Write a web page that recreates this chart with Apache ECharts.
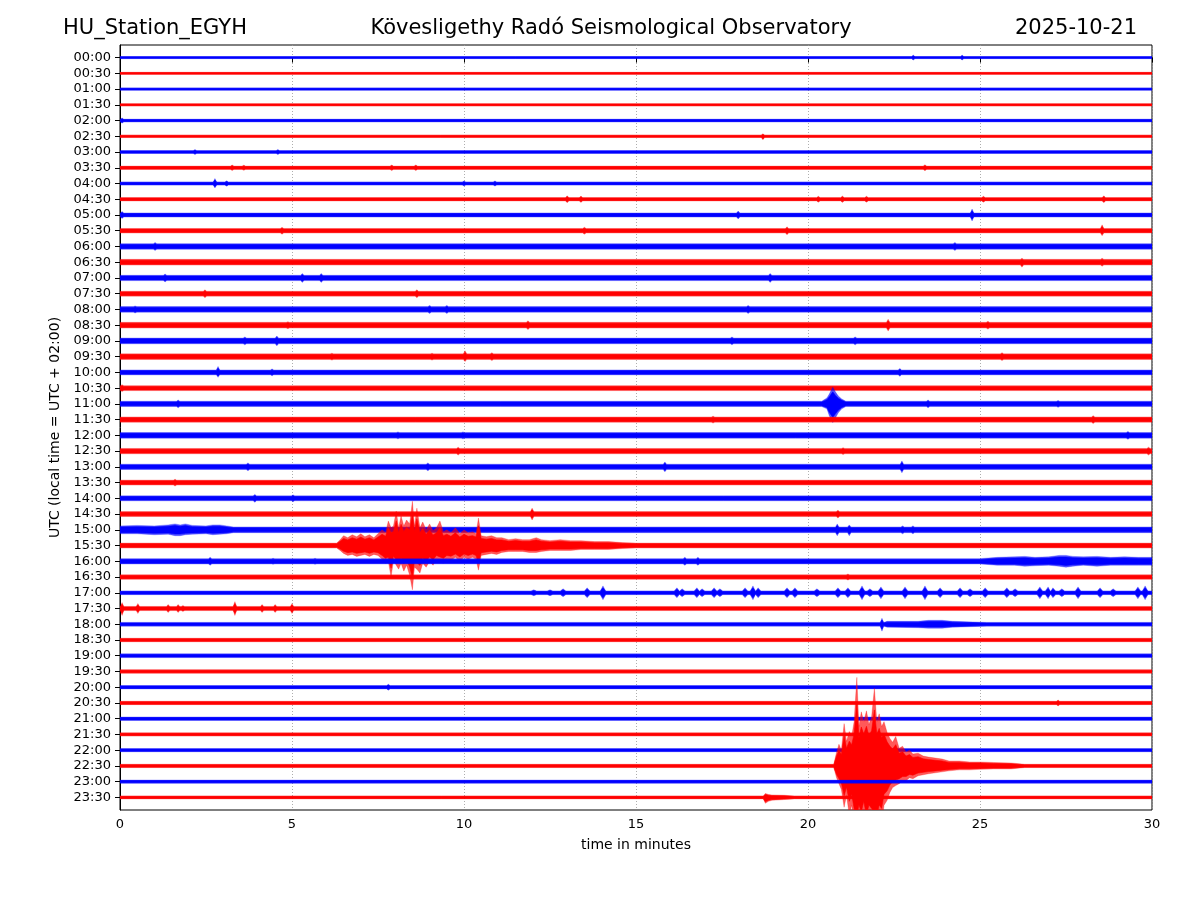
<!DOCTYPE html>
<html>
<head>
<meta charset="utf-8">
<script src="https://cdn.jsdelivr.net/npm/echarts@6/dist/echarts.min.js"></script>
<style>
html,body{margin:0;padding:0;background:#fff;}
#chart{width:1200px;height:900px;}
</style>
</head>
<body>
<div id="chart"></div>
<script>
const stationName = 'HU_Station_EGYH';
const observatory = 'Kövesligethy Radó Seismological Observatory';
const dateLabel = '2025-10-21';
const xAxisTitle = 'time in minutes';
const yAxisTitle = 'UTC (local time = UTC + 02:00)';

// one trace per 30-minute window (tick labels of the y axis)
const rowLabels = ['00:00','00:30','01:00','01:30','02:00','02:30','03:00','03:30',
  '04:00','04:30','05:00','05:30','06:00','06:30','07:00','07:30',
  '08:00','08:30','09:00','09:30','10:00','10:30','11:00','11:30',
  '12:00','12:30','13:00','13:30','14:00','14:30','15:00','15:30',
  '16:00','16:30','17:00','17:30','18:00','18:30','19:00','19:30',
  '20:00','20:30','21:00','21:30','22:00','22:30','23:00','23:30'];

// x axis: minutes within each window
const minuteTicks = [0, 5, 10, 15, 20, 25, 30];

// amplitudes are in counts; 16 counts = distance between two traces
// background noise half-amplitude of each trace
const noiseLevel = [1.1,1.1,1.2,1.2,1.4,1.3,1.5,1.7,1.6,1.7,2.1,2.3,
  2.9,2.9,2.7,2.5,2.9,2.9,2.9,2.9,2.5,2.5,2.7,2.7,
  2.9,2.7,2.7,2.5,2.5,2.5,2.9,2.5,2.7,2.3,1.9,2.1,
  1.9,1.8,1.9,1.8,1.7,1.7,1.7,1.6,1.6,1.7,1.6,1.5];

// short spikes: [row, minute, up, down]
const spikes = [
  [0,23.06,2.5,2.5],[0,24.48,2.5,2.5],
  [4,0.06,2.6,2.6],
  [5,18.69,2.5,3.5],
  [6,2.18,2.5,2.5],[6,4.59,2.5,2.5],
  [7,3.26,2.8,2.8],[7,3.6,2.6,2.6],[7,7.9,2.8,2.8],[7,8.6,2.8,2.8],[7,23.4,3,3],
  [8,2.76,5,4.5],[8,3.1,2.7,2.7],[8,10.0,2.5,2.5],[8,10.9,2.6,2.6],
  [9,13.0,3.5,3.5],[9,13.4,3.2,3.2],[9,20.3,3,3],[9,21.0,3.2,3.2],[9,21.7,3,3],[9,25.1,3,3],[9,28.6,3.5,3.5],
  [10,0.06,3.5,3.5],[10,17.97,4,4],[10,24.77,6,6],
  [11,4.71,3.5,3.5],[11,13.5,3.5,3.5],[11,19.39,4,4],[11,28.55,6,5],
  [12,1.02,4,4],[12,24.27,4,4],
  [13,26.22,4,5],[13,28.55,4,4],
  [14,1.31,4,4],[14,5.3,4.5,4.5],[14,5.85,4.5,4.5],[14,18.9,4.5,4.5],
  [15,2.47,4,4],[15,8.63,4,4],
  [16,0.44,3.5,3.5],[16,9.0,4,4],[16,9.5,4,4],[16,18.26,4,4],
  [17,4.88,3.5,3.5],[17,11.86,4.5,4.5],[17,22.33,6,6],[17,25.23,4,4],
  [18,3.63,4,4],[18,4.56,5,5],[18,17.79,4,4],[18,21.37,4,4],
  [19,6.16,3.5,3.5],[19,9.07,3.5,3.5],[19,10.03,6,5],[19,10.81,4,4],[19,25.64,4,4],
  [20,2.85,6,5],[20,4.42,3.5,3.5],[20,22.67,4,4],
  [21,0.06,3.5,3.5],
  [22,1.69,4,4],[22,23.49,4,4],[22,27.27,3.5,3.5],
  [23,17.24,3.5,3.5],[23,28.29,4,4],
  [24,8.08,3.5,3.5],[24,9.97,3.5,3.5],[24,29.3,4,4],
  [25,9.83,4,4],[25,21.02,3.5,3.5],[25,29.9,4,4],
  [26,3.72,4,4],[26,8.95,4,4],[26,15.84,5,5],[26,22.73,6,6],
  [27,1.6,3.5,3.5],
  [28,3.92,4,4],[28,5.03,3.5,3.5],
  [29,11.98,6,6],[29,20.87,4,4],
  [30,20.85,6,6],[30,21.2,5,6],[30,22.75,4,4],[30,23.05,4,4],
  [32,2.62,4,4],[32,4.45,3,3],[32,5.67,3,3],[32,16.42,4,4],[32,16.8,4,4],
  [33,21.16,3,3],
  [35,0.06,6,7],[35,0.52,5,5],[35,1.4,4,4],[35,1.69,4,4],[35,1.83,3,3],[35,3.34,7,7],
  [35,4.13,4,4],[35,4.51,4,4],[35,5.0,5,5],
  [36,22.15,6,7],
  [40,7.8,3,3],
  [41,27.27,3,3]
];

// repeating wave packets on the 17:00 trace: [minute, up, down]
const packets1700 = [
  [12.03,3,3],[12.5,3,3],[12.88,4,4],[13.58,5,5],[14.04,7,7],
  [16.19,5,5],[16.34,4,4],[16.77,5,5],[16.92,4,4],[17.27,5,5],[17.44,4,4],
  [18.17,5,5],[18.4,7,7],[18.55,5,5],[19.39,5,5],[19.62,5,5],[20.26,4,4],
  [20.87,5,5],[21.16,5,5],[21.57,7,7],[21.8,4,4],[22.12,6,6],[22.82,6,6],
  [23.4,7,7],[23.84,5,5],[24.42,5,5],[24.71,4,4],[25.15,5,5],[25.78,5,5],
  [26.02,4,4],[26.74,6,6],[26.98,6,6],[27.12,5,5],[27.38,4,4],[27.85,6,6],
  [28.49,5,5],[28.87,4,4],[29.59,6,6],[29.8,7,7]
];

// longer bursts: explicit envelopes [minute, up, down]
const quake1530 = [
  [6.30,2.5,2.5],[6.40,6,5],[6.50,10,8],[6.62,8,10],[6.75,11,9],[6.88,9,11],[7.00,12,10],
  [7.12,9,9],[7.25,11,11],[7.38,8,9],[7.50,12,10],[7.62,16,14],[7.72,13,18],[7.80,25,16],
  [7.88,18,32],[7.95,20,15],[8.03,35,20],[8.10,18,24],[8.17,30,18],[8.25,20,26],[8.33,26,20],
  [8.42,22,30],[8.50,45,45],[8.56,20,22],[8.63,38,24],[8.72,18,28],[8.80,24,18],[8.90,16,22],
  [9.00,22,16],[9.10,15,20],[9.20,18,14],[9.30,25,16],[9.40,14,18],[9.50,16,14],[9.62,13,15],
  [9.75,18,12],[9.88,12,16],[10.00,16,12],[10.12,13,14],[10.25,14,12],[10.35,12,14],
  [10.42,28,25],[10.50,10,10],[10.65,9,9],[10.80,10,8],[10.95,8,9],[11.10,8,7],[11.30,6,6],
  [11.50,7,6],[11.70,6,6],[11.90,6,7],[12.10,8,7],[12.25,6,6],[12.50,5,5],[12.80,6,5],
  [13.10,5,5],[13.40,5,4],[13.80,4,4],[14.20,4,4],[14.60,3,3],[15.00,2.5,2.5]
];
const quake2230 = [
  [20.75,1.7,1.7],[20.83,14,12],[20.90,22,18],[20.97,16,24],[21.05,43,42],[21.12,25,30],
  [21.20,35,50],[21.27,30,40],[21.34,45,60],[21.42,90,70],[21.48,40,55],[21.55,55,65],
  [21.62,45,50],[21.70,56,70],[21.77,42,55],[21.85,50,60],[21.93,79,65],[22.00,45,70],
  [22.07,53,55],[22.14,40,60],[22.21,45,40],[22.30,34,35],[22.38,28,27],[22.46,24,22],
  [22.55,30,20],[22.65,18,18],[22.75,20,15],[22.85,14,15],[22.95,16,12],[23.05,12,13],
  [23.20,13,10],[23.35,10,9],[23.50,9,8],[23.70,8,7],[23.90,7,6],[24.10,5,5],[24.40,5,4],
  [24.70,4,4],[25.00,4,3.5],[25.40,3.5,3],[25.90,3,3],[26.30,1.7,1.7]
];
const burst1100 = [
  [20.40,2.7,2.7],[20.55,6,5],[20.62,10,12],[20.72,17,19],[20.80,12,14],[20.88,8,9],
  [20.98,5,5],[21.10,2.7,2.7]
];
const burst1500 = [
  [0.00,4,4],[0.50,4.5,4],[1.00,4,5],[1.40,5,4.5],[1.60,6,6],[1.75,5,6],[1.90,6,5],
  [2.10,4.5,4.5],[2.50,4,4],[2.70,5,5],[2.90,5,4.5],[3.10,4,4],[3.30,2.9,2.9]
];
const burst1600 = [
  [25.00,2.7,2.7],[25.50,4,4],[26.00,4.5,4],[26.30,5,5],[26.60,4,4.5],[27.00,4.5,4],
  [27.30,6,5],[27.50,6,6],[27.70,5,5],[28.00,4.5,4],[28.40,5,5],[28.80,4,4],[29.20,4.5,4],
  [29.60,4,4],[30.00,4,4]
];
const burst1800 = [
  [22.30,3,3],[23.20,3,3.5],[23.50,4,4],[23.90,4,4],[24.20,3,3],[25.20,1.9,1.9]
];
const burst2330 = [
  [18.70,1.5,1.5],[18.76,4,6],[18.85,3,4],[18.95,2.5,3],[19.30,2.2,2.2],[19.60,1.5,1.5]
];
// which trace each burst belongs to
const burstRows = [[31, quake1530], [45, quake2230], [22, burst1100], [30, burst1500],
  [32, burst1600], [36, burst1800], [47, burst2330]];
const packetRow = 34;

// ---------------- BUILD ----------------
const COUNTS_PER_TRACE = 16;
const SPIKE_HALF_WIDTH = 0.05;
const PACKET_HALF_WIDTH = 0.08;
const traceColors = ['#0000ff', '#ff0000'];

const envelopes = rowLabels.map((_, r) => {
  const b = noiseLevel[r];
  const pts = [];
  const addPeak = (t, up, dn, w) => {
    pts.push([t - w, b, b]);
    pts.push([t, up, dn]);
    pts.push([t + w, b, b]);
  };
  spikes.filter(s => s[0] === r).forEach(s => addPeak(s[1], s[2], s[3], SPIKE_HALF_WIDTH));
  if (r === packetRow) packets1700.forEach(s => addPeak(s[0], s[1], s[2], PACKET_HALF_WIDTH));
  burstRows.filter(e => e[0] === r).forEach(e => e[1].forEach(p => pts.push(p)));
  pts.sort((a, c) => a[0] - c[0]);
  if (!pts.length || pts[0][0] > 0) pts.unshift([0, b, b]);
  if (pts[pts.length - 1][0] < 30) pts.push([30, b, b]);
  return pts.map(p => [Math.max(0, Math.min(30, p[0])), p[1], p[2]]);
});

function bandPoints(api, r, env, k) {
  const upper = env.map(p => api.coord([p[0], r - k * p[1] / COUNTS_PER_TRACE]));
  const lower = env.slice().reverse().map(p => api.coord([p[0], r + k * p[2] / COUNTS_PER_TRACE]));
  return upper.concat(lower);
}

function renderTrace(params, api) {
  const r = api.value(0);
  const env = envelopes[r];
  const cs = params.coordSys;
  const clip = () => ({ type: 'rect', shape: { x: cs.x, y: cs.y, width: cs.width, height: cs.height } });
  const col = traceColors[r % 2];
  return {
    type: 'group',
    children: [
      { type: 'polygon', shape: { points: bandPoints(api, r, env, 1) },
        style: { fill: col, stroke: col, lineWidth: 0.4, opacity: 0.65 }, clipPath: clip() },
      { type: 'polygon', shape: { points: bandPoints(api, r, env, 0.72) },
        style: { fill: col, stroke: col, lineWidth: 0.6 }, clipPath: clip() }
    ]
  };
}

const FONT = 'DejaVu Sans';
const chart = echarts.init(document.getElementById('chart'), null, { renderer: 'canvas' });
chart.setOption({
  animation: false,
  backgroundColor: '#fff',
  textStyle: { fontFamily: FONT },
  graphic: [
    { type: 'text', x: 63, y: 29, style: { text: stationName, font: '21px "DejaVu Sans"', fill: '#000', align: 'left', verticalAlign: 'middle' } },
    { type: 'text', x: 611, y: 29, style: { text: observatory, font: '21px "DejaVu Sans"', fill: '#000', align: 'center', verticalAlign: 'middle' } },
    { type: 'text', x: 1137, y: 29, style: { text: dateLabel, font: '21px "DejaVu Sans"', fill: '#000', align: 'right', verticalAlign: 'middle' } }
  ],
  grid: { left: 120, right: 48, top: 45, bottom: 90, show: true, borderColor: '#000', borderWidth: 1, backgroundColor: 'transparent' },
  xAxis: {
    type: 'value', min: minuteTicks[0], max: minuteTicks[minuteTicks.length - 1], interval: 5,
    name: xAxisTitle, nameLocation: 'middle', nameGap: 28,
    nameTextStyle: { fontSize: 14, color: '#000', fontFamily: FONT },
    axisLine: { show: true, lineStyle: { color: '#000', width: 1 } },
    axisTick: { show: true, inside: false, length: 5, lineStyle: { color: '#000' } },
    axisLabel: { fontSize: 13, color: '#000', margin: 8, fontFamily: FONT },
    splitLine: { show: true, lineStyle: { color: '#999', width: 0.8, type: [1, 2] } }
  },
  yAxis: {
    type: 'value', inverse: true, min: -0.8, max: 47.8,
    name: yAxisTitle, nameLocation: 'middle', nameGap: 56, nameRotate: 90,
    nameTextStyle: { fontSize: 14, color: '#000', fontFamily: FONT },
    axisLine: { show: true, lineStyle: { color: '#000', width: 1 } },
    axisTick: { show: true, inside: false, length: 5, customValues: rowLabels.map((_, i) => i), lineStyle: { color: '#000' } },
    axisLabel: { fontSize: 13, color: '#000', margin: 9, fontFamily: FONT,
      customValues: rowLabels.map((_, i) => i),
      formatter: v => rowLabels[Math.round(v)] || '' },
    splitLine: { show: false }
  },
  series: [{
    type: 'custom',
    coordinateSystem: 'cartesian2d',
    renderItem: renderTrace,
    encode: { x: 0, y: 0 },
    data: rowLabels.map((_, i) => [i]),
    z: 2
  }]
});
</script>
</body>
</html>
